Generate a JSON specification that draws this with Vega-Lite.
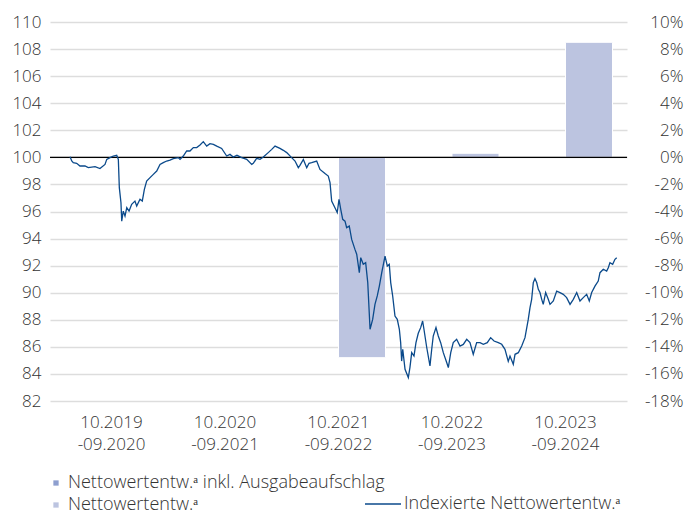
{
  "$schema": "https://vega.github.io/schema/vega-lite/v6.json",
  "width": 577,
  "height": 379,
  "autosize": "none",
  "padding": {"left": 50, "top": 22, "right": 70, "bottom": 113},
  "background": "white",
  "config": {
    "font": "Open Sans",
    "view": {"stroke": null},
    "axis": {"labelFont": "Open Sans", "labelFontSize": 17, "labelColor": "#333333", "labelFontWeight": 300, "domain": false, "ticks": false, "tickSize": 0, "title": null, "grid": false, "labelOverlap": false},
    "legend": {"labelFont": "Open Sans", "labelFontSize": 18, "labelColor": "#333333", "labelFontWeight": 300, "padding": 0, "labelLimit": 0, "title": null}
  },
  "layer": [
    {
      "data": {"values": [
        {"periode": "10.2021-09.2022", "serie": "Nettowertentw.ᵃ", "rendite": -14.8},
        {"periode": "10.2022-09.2023", "serie": "Nettowertentw.ᵃ", "rendite": 0.3},
        {"periode": "10.2023-09.2024", "serie": "Nettowertentw.ᵃ", "rendite": 8.5}
      ]},
      "layer": [
        {
          "mark": {"type": "bar", "stroke": "white", "strokeWidth": 1},
          "encoding": {
            "x": {"field": "periode", "type": "nominal", "sort": null,
              "scale": {"domain": ["10.2019-09.2020", "10.2020-09.2021", "10.2021-09.2022", "10.2022-09.2023", "10.2023-09.2024"], "paddingInner": 0.1718, "paddingOuter": 0.1278},
              "axis": {"orient": "bottom", "labelAngle": 0, "labelPadding": 13, "labelLineHeight": 22, "labelOverlap": false, "labelExpr": "[slice(datum.value,0,7), slice(datum.value,7)]"}},
            "xOffset": {"field": "serie", "type": "nominal", "scale": {"domain": ["Nettowertentw.ᵃ inkl. Ausgabeaufschlag", "Nettowertentw.ᵃ"], "paddingInner": 0, "paddingOuter": 0}},
            "y": {"field": "rendite", "type": "quantitative",
              "scale": {"domain": [-18, 10], "nice": false, "zero": false},
              "axis": {"orient": "right", "values": [-18, -16, -14, -12, -10, -8, -6, -4, -2, 0, 2, 4, 6, 8, 10], "labelAlign": "right", "labelPadding": 56, "labelOverlap": false, "labelBound": false, "labelExpr": "datum.value + '%'"}},
            "color": {"field": "serie", "type": "nominal",
              "scale": {"domain": ["Nettowertentw.ᵃ inkl. Ausgabeaufschlag", "Nettowertentw.ᵃ"], "range": ["#8E9FCF", "#BCC4E0"]},
              "legend": {"orient": "none", "legendX": -3, "legendY": 452, "direction": "vertical", "symbolType": "square", "symbolSize": 28, "symbolStrokeWidth": 0, "labelOffset": 3, "rowPadding": 4}}
          }
        },
        {
          "data": {"values": [{"nulllinie": 0}]},
          "mark": {"type": "rule", "color": "#000000", "strokeWidth": 1.2},
          "encoding": {"y": {"field": "nulllinie", "type": "quantitative",
            "axis": {"orient": "right", "values": [-18, -16, -14, -12, -10, -8, -6, -4, -2, 0, 2, 4, 6, 8, 10], "labelAlign": "right", "labelPadding": 56, "labelOverlap": false, "labelBound": false, "labelExpr": "datum.value + '%'"}}}
        }
      ]
    },
    {
      "data": {"values": [
        {"jahr": 2019.750, "index": 100.05}, {"jahr": 2019.766, "index": 99.73}, {"jahr": 2019.780, "index": 99.61}, {"jahr": 2019.811, "index": 99.56},
        {"jahr": 2019.841, "index": 99.36}, {"jahr": 2019.887, "index": 99.36}, {"jahr": 2019.917, "index": 99.24}, {"jahr": 2019.979, "index": 99.31},
        {"jahr": 2020.024, "index": 99.17}, {"jahr": 2020.070, "index": 99.48}, {"jahr": 2020.086, "index": 99.85}, {"jahr": 2020.116, "index": 99.98},
        {"jahr": 2020.146, "index": 100.10}, {"jahr": 2020.177, "index": 100.15}, {"jahr": 2020.192, "index": 99.85}, {"jahr": 2020.201, "index": 97.76},
        {"jahr": 2020.216, "index": 96.65}, {"jahr": 2020.223, "index": 95.29}, {"jahr": 2020.237, "index": 96.03}, {"jahr": 2020.253, "index": 95.66},
        {"jahr": 2020.269, "index": 96.28}, {"jahr": 2020.290, "index": 96.03}, {"jahr": 2020.314, "index": 96.53}, {"jahr": 2020.344, "index": 96.77},
        {"jahr": 2020.360, "index": 96.40}, {"jahr": 2020.390, "index": 96.90}, {"jahr": 2020.411, "index": 96.77}, {"jahr": 2020.430, "index": 97.64},
        {"jahr": 2020.451, "index": 98.25}, {"jahr": 2020.482, "index": 98.50}, {"jahr": 2020.512, "index": 98.74}, {"jahr": 2020.543, "index": 98.99},
        {"jahr": 2020.573, "index": 99.48}, {"jahr": 2020.603, "index": 99.61}, {"jahr": 2020.634, "index": 99.73}, {"jahr": 2020.665, "index": 99.80},
        {"jahr": 2020.695, "index": 99.90}, {"jahr": 2020.740, "index": 99.98}, {"jahr": 2020.756, "index": 99.85}, {"jahr": 2020.786, "index": 100.10},
        {"jahr": 2020.817, "index": 100.47}, {"jahr": 2020.847, "index": 100.47}, {"jahr": 2020.878, "index": 100.72}, {"jahr": 2020.909, "index": 100.72},
        {"jahr": 2020.939, "index": 100.91}, {"jahr": 2020.969, "index": 101.16}, {"jahr": 2021.000, "index": 100.83}, {"jahr": 2021.030, "index": 101.01},
        {"jahr": 2021.061, "index": 100.96}, {"jahr": 2021.092, "index": 100.83}, {"jahr": 2021.137, "index": 100.66}, {"jahr": 2021.183, "index": 100.10},
        {"jahr": 2021.213, "index": 100.22}, {"jahr": 2021.243, "index": 100.02}, {"jahr": 2021.277, "index": 100.15}, {"jahr": 2021.320, "index": 99.98},
        {"jahr": 2021.366, "index": 99.85}, {"jahr": 2021.412, "index": 99.48}, {"jahr": 2021.426, "index": 99.56}, {"jahr": 2021.457, "index": 99.93},
        {"jahr": 2021.488, "index": 99.85}, {"jahr": 2021.518, "index": 100.02}, {"jahr": 2021.563, "index": 100.35}, {"jahr": 2021.595, "index": 100.59},
        {"jahr": 2021.625, "index": 100.83}, {"jahr": 2021.670, "index": 100.66}, {"jahr": 2021.701, "index": 100.52}, {"jahr": 2021.732, "index": 100.35},
        {"jahr": 2021.777, "index": 99.98}, {"jahr": 2021.808, "index": 99.73}, {"jahr": 2021.838, "index": 99.24}, {"jahr": 2021.853, "index": 99.41},
        {"jahr": 2021.884, "index": 99.85}, {"jahr": 2021.915, "index": 99.24}, {"jahr": 2021.936, "index": 99.56}, {"jahr": 2021.960, "index": 99.61},
        {"jahr": 2022.006, "index": 99.73}, {"jahr": 2022.036, "index": 99.11}, {"jahr": 2022.082, "index": 98.80}, {"jahr": 2022.112, "index": 98.62},
        {"jahr": 2022.128, "index": 98.13}, {"jahr": 2022.143, "index": 96.77}, {"jahr": 2022.173, "index": 96.28}, {"jahr": 2022.194, "index": 95.92},
        {"jahr": 2022.210, "index": 96.90}, {"jahr": 2022.226, "index": 96.16}, {"jahr": 2022.244, "index": 95.42}, {"jahr": 2022.265, "index": 95.29},
        {"jahr": 2022.280, "index": 94.81}, {"jahr": 2022.304, "index": 94.93}, {"jahr": 2022.326, "index": 93.94}, {"jahr": 2022.356, "index": 93.20},
        {"jahr": 2022.372, "index": 92.84}, {"jahr": 2022.396, "index": 91.48}, {"jahr": 2022.409, "index": 92.59}, {"jahr": 2022.432, "index": 92.10},
        {"jahr": 2022.454, "index": 92.22}, {"jahr": 2022.473, "index": 90.75}, {"jahr": 2022.494, "index": 87.30}, {"jahr": 2022.518, "index": 88.03},
        {"jahr": 2022.539, "index": 89.14}, {"jahr": 2022.560, "index": 89.76}, {"jahr": 2022.579, "index": 90.49}, {"jahr": 2022.601, "index": 91.48},
        {"jahr": 2022.631, "index": 92.71}, {"jahr": 2022.652, "index": 91.97}, {"jahr": 2022.670, "index": 92.10}, {"jahr": 2022.683, "index": 90.75},
        {"jahr": 2022.701, "index": 89.76}, {"jahr": 2022.722, "index": 88.28}, {"jahr": 2022.743, "index": 88.03}, {"jahr": 2022.762, "index": 87.30},
        {"jahr": 2022.774, "index": 86.31}, {"jahr": 2022.783, "index": 84.95}, {"jahr": 2022.793, "index": 85.82}, {"jahr": 2022.814, "index": 84.34},
        {"jahr": 2022.844, "index": 83.73}, {"jahr": 2022.859, "index": 84.49}, {"jahr": 2022.875, "index": 85.57}, {"jahr": 2022.896, "index": 85.32},
        {"jahr": 2022.914, "index": 86.31}, {"jahr": 2022.935, "index": 87.00}, {"jahr": 2022.957, "index": 87.42}, {"jahr": 2022.975, "index": 87.91},
        {"jahr": 2022.987, "index": 87.30}, {"jahr": 2023.012, "index": 85.97}, {"jahr": 2023.042, "index": 84.59}, {"jahr": 2023.058, "index": 85.82},
        {"jahr": 2023.072, "index": 86.80}, {"jahr": 2023.097, "index": 87.42}, {"jahr": 2023.118, "index": 86.80}, {"jahr": 2023.140, "index": 86.31},
        {"jahr": 2023.164, "index": 85.57}, {"jahr": 2023.195, "index": 84.84}, {"jahr": 2023.210, "index": 84.47}, {"jahr": 2023.232, "index": 85.57},
        {"jahr": 2023.255, "index": 86.31}, {"jahr": 2023.286, "index": 86.56}, {"jahr": 2023.317, "index": 86.06}, {"jahr": 2023.347, "index": 86.18},
        {"jahr": 2023.378, "index": 86.56}, {"jahr": 2023.408, "index": 86.31}, {"jahr": 2023.438, "index": 85.45}, {"jahr": 2023.469, "index": 86.31},
        {"jahr": 2023.500, "index": 86.31}, {"jahr": 2023.530, "index": 86.19}, {"jahr": 2023.566, "index": 86.31}, {"jahr": 2023.597, "index": 86.68},
        {"jahr": 2023.628, "index": 86.43}, {"jahr": 2023.667, "index": 86.31}, {"jahr": 2023.698, "index": 86.19}, {"jahr": 2023.728, "index": 85.82},
        {"jahr": 2023.758, "index": 84.93}, {"jahr": 2023.774, "index": 85.32}, {"jahr": 2023.804, "index": 84.71}, {"jahr": 2023.820, "index": 85.45},
        {"jahr": 2023.850, "index": 85.57}, {"jahr": 2023.881, "index": 86.06}, {"jahr": 2023.911, "index": 86.68}, {"jahr": 2023.941, "index": 88.03},
        {"jahr": 2023.957, "index": 88.90}, {"jahr": 2023.972, "index": 89.51}, {"jahr": 2023.987, "index": 90.75}, {"jahr": 2024.002, "index": 91.04},
        {"jahr": 2024.018, "index": 90.75}, {"jahr": 2024.033, "index": 90.25}, {"jahr": 2024.048, "index": 90.01}, {"jahr": 2024.064, "index": 89.51},
        {"jahr": 2024.078, "index": 89.14}, {"jahr": 2024.100, "index": 90.01}, {"jahr": 2024.124, "index": 89.51}, {"jahr": 2024.140, "index": 89.14},
        {"jahr": 2024.170, "index": 89.39}, {"jahr": 2024.201, "index": 90.12}, {"jahr": 2024.231, "index": 90.01}, {"jahr": 2024.261, "index": 89.88},
        {"jahr": 2024.292, "index": 89.64}, {"jahr": 2024.323, "index": 89.14}, {"jahr": 2024.353, "index": 89.51}, {"jahr": 2024.384, "index": 90.01},
        {"jahr": 2024.414, "index": 89.39}, {"jahr": 2024.444, "index": 89.64}, {"jahr": 2024.475, "index": 89.88}, {"jahr": 2024.499, "index": 89.39},
        {"jahr": 2024.521, "index": 90.01}, {"jahr": 2024.551, "index": 90.49}, {"jahr": 2024.581, "index": 90.86}, {"jahr": 2024.597, "index": 91.48},
        {"jahr": 2024.627, "index": 91.73}, {"jahr": 2024.658, "index": 91.60}, {"jahr": 2024.673, "index": 91.85}, {"jahr": 2024.688, "index": 92.22},
        {"jahr": 2024.713, "index": 92.10}, {"jahr": 2024.734, "index": 92.47}, {"jahr": 2024.750, "index": 92.59}
      ]},
      "mark": {"type": "line", "strokeWidth": 1.3, "interpolate": "linear"},
      "encoding": {
        "x": {"field": "jahr", "type": "quantitative", "scale": {"domain": [2019.567, 2024.844], "nice": false, "zero": false}, "axis": null},
        "y": {"field": "index", "type": "quantitative",
          "scale": {"domain": [82, 110], "nice": false, "zero": false},
          "axis": {"orient": "left", "values": [82, 84, 86, 88, 90, 92, 94, 96, 98, 100, 102, 104, 106, 108, 110], "grid": true, "gridColor": "#DDDDDD", "gridWidth": 1.5, "labelPadding": 9, "labelOverlap": false}},
        "stroke": {"datum": "Indexierte Nettowertentw.ᵃ", "type": "nominal",
          "scale": {"range": ["#0B4A8B"]},
          "legend": {"orient": "none", "legendX": 314, "legendY": 463, "symbolType": "stroke", "symbolSize": 1296, "symbolStrokeWidth": 1.3, "labelOffset": 2}}
      }
    }
  ],
  "resolve": {"scale": {"x": "independent", "y": "independent", "color": "independent", "stroke": "independent"}, "legend": {"color": "independent", "stroke": "independent"}}
}
